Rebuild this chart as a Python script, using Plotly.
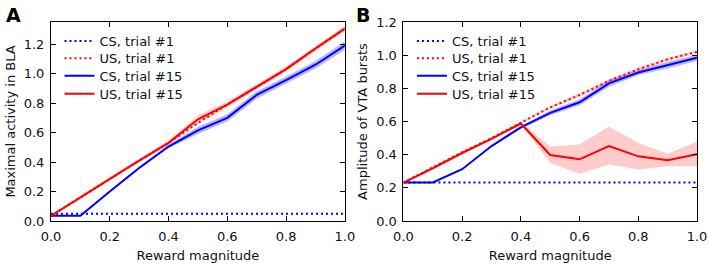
import plotly.graph_objects as go

# ---------------- data ----------------
reward = [0.0, 0.1, 0.2, 0.3, 0.4, 0.5, 0.6, 0.7, 0.8, 0.9, 1.0]
xticks = [0.0, 0.2, 0.4, 0.6, 0.8, 1.0]
xtick_labels = ["0.0", "0.2", "0.4", "0.6", "0.8", "1.0"]
a_yticks = [0.0, 0.2, 0.4, 0.6, 0.8, 1.0, 1.2]
b_yticks = [0.0, 0.2, 0.4, 0.6, 0.8, 1.0, 1.2]
series_names = ["CS, trial #1", "US, trial #1", "CS, trial #15", "US, trial #15"]

# Panel A: maximal activity in BLA
a_cs1 = [0.05, 0.05, 0.05, 0.05, 0.05, 0.05, 0.05, 0.05, 0.05, 0.05, 0.05]
a_us1 = [0.035, 0.16, 0.29, 0.41, 0.53, 0.665, 0.79, 0.91, 1.03, 1.17, 1.305]
a_cs15 = [0.035, 0.035, 0.20, 0.36, 0.505, 0.615, 0.70, 0.855, 0.955, 1.06, 1.19]
a_cs15_sd = [0.0, 0.0, 0.005, 0.008, 0.012, 0.025, 0.025, 0.025, 0.025, 0.025, 0.03]
a_us15 = [0.035, 0.16, 0.29, 0.41, 0.53, 0.69, 0.79, 0.91, 1.03, 1.17, 1.305]
a_us15_sd = [0.005, 0.008, 0.01, 0.01, 0.014, 0.028, 0.02, 0.018, 0.018, 0.018, 0.02]

# Panel B: amplitude of VTA bursts
b_cs1 = [0.232, 0.232, 0.232, 0.232, 0.232, 0.232, 0.232, 0.232, 0.232, 0.232, 0.232]
b_us1 = [0.232, 0.325, 0.415, 0.50, 0.595, 0.685, 0.76, 0.845, 0.915, 0.975, 1.02]
b_us1_sd = [0.0, 0.003, 0.004, 0.005, 0.006, 0.008, 0.01, 0.01, 0.01, 0.01, 0.01]
b_cs15 = [0.232, 0.232, 0.312, 0.452, 0.565, 0.652, 0.716, 0.83, 0.895, 0.94, 0.985]
b_cs15_sd = [0.0, 0.0, 0.003, 0.005, 0.008, 0.015, 0.018, 0.02, 0.015, 0.02, 0.018]
b_us15 = [0.232, 0.318, 0.41, 0.495, 0.588, 0.398, 0.372, 0.452, 0.39, 0.366, 0.402]
b_us15_hi = [0.232, 0.32, 0.412, 0.498, 0.595, 0.45, 0.462, 0.57, 0.47, 0.405, 0.48]
b_us15_lo = [0.232, 0.316, 0.408, 0.492, 0.58, 0.35, 0.285, 0.34, 0.31, 0.33, 0.33]

BLUE = "#0000ff"
RED = "#ff0000"
BLUE_FILL = "rgba(0,0,255,0.28)"
RED_FILL = "rgba(255,0,0,0.2)"
FONT = "DejaVu Sans"
TXT = "#111111"
FS = 13

W, H = 709, 265
ML, MR, MT, MB = 50.5, 11.5, 22, 43.5
IW, IH = W - ML - MR, H - MT - MB


def px_x(p):  # pixel -> paper x
    return (p - ML) / IW


def px_y(p):  # pixel (from top) -> paper y
    return (H - MB - p) / IH


fig = go.Figure()


def band(lo, hi, color, xa, ya):
    fig.add_trace(go.Scatter(x=reward + reward[::-1], y=hi + lo[::-1], fill="toself",
                             fillcolor=color, line=dict(width=0), mode="lines",
                             hoverinfo="skip", showlegend=False, xaxis=xa, yaxis=ya))


def line(y, color, dash, name, xa, ya, leg):
    fig.add_trace(go.Scatter(x=reward, y=y, mode="lines", name=name,
                             line=dict(color=color, width=2, dash=dash),
                             xaxis=xa, yaxis=ya, legend=leg))


DOT = "2px,3px"

# Panel A bands
band([m - s for m, s in zip(a_cs15, a_cs15_sd)], [m + s for m, s in zip(a_cs15, a_cs15_sd)], BLUE_FILL, "x", "y")
band([m - s for m, s in zip(a_us15, a_us15_sd)], [m + s for m, s in zip(a_us15, a_us15_sd)], RED_FILL, "x", "y")
# Panel B bands
band([m - s for m, s in zip(b_us1, b_us1_sd)], [m + s for m, s in zip(b_us1, b_us1_sd)], RED_FILL, "x2", "y2")
band([m - s for m, s in zip(b_cs15, b_cs15_sd)], [m + s for m, s in zip(b_cs15, b_cs15_sd)], BLUE_FILL, "x2", "y2")
band(b_us15_lo, b_us15_hi, RED_FILL, "x2", "y2")

# Panel A lines (one legend per row so that rows can be placed like the original)
line(a_cs1, BLUE, DOT, series_names[0], "x", "y", "legend")
line(a_us1, RED, DOT, series_names[1], "x", "y", "legend2")
line(a_cs15, BLUE, "solid", series_names[2], "x", "y", "legend3")
line(a_us15, RED, "solid", series_names[3], "x", "y", "legend4")
# Panel B lines
line(b_cs1, BLUE, DOT, series_names[0], "x2", "y2", "legend5")
line(b_us1, RED, DOT, series_names[1], "x2", "y2", "legend6")
line(b_cs15, BLUE, "solid", series_names[2], "x2", "y2", "legend7")
line(b_us15, RED, "solid", series_names[3], "x2", "y2", "legend8")

axis_common = dict(showline=True, linecolor="black", linewidth=1, mirror="ticks",
                   ticks="inside", ticklen=5, tickcolor="black", showgrid=False,
                   zeroline=False, automargin=False,
                   tickfont=dict(family=FONT, size=FS, color=TXT))

xaxis_common = dict(axis_common, range=[0, 1], tickvals=xticks, ticktext=xtick_labels,
                    ticklabelstandoff=3,
                    title=dict(text="Reward magnitude", font=dict(family=FONT, size=FS, color=TXT),
                               standoff=8))

row_y = [41, 58.5, 76, 94]
legends = {}
for panel, x0 in ((0, 59), (1, 412)):
    for i, ry in enumerate(row_y):
        k = panel * 4 + i + 1
        key = "legend" if k == 1 else "legend%d" % k
        legends[key] = dict(x=px_x(x0), y=px_y(ry), xanchor="left", yanchor="middle",
                            bgcolor="rgba(0,0,0,0)", borderwidth=0,
                            font=dict(family=FONT, size=FS, color=TXT))

fig.update_layout(
    width=W, height=H,
    margin=dict(l=ML, r=MR, t=MT, b=MB),
    paper_bgcolor="white", plot_bgcolor="white",
    font=dict(family=FONT, size=FS, color=TXT),
    xaxis=dict(xaxis_common, domain=[0, (344.8 - ML) / IW], anchor="y"),
    yaxis=dict(axis_common, domain=[0, 1], anchor="x",
               range=[0, 1.35], tickvals=a_yticks, tickformat=".1f",
               ticklabelstandoff=3,
               title=dict(text="Maximal activity in BLA", font=dict(family=FONT, size=FS, color=TXT),
                          standoff=5)),
    xaxis2=dict(xaxis_common, domain=[(403.5 - ML) / IW, 1], anchor="y2"),
    yaxis2=dict(axis_common, domain=[0, 1], anchor="x2",
                range=[0, 1.2], tickvals=b_yticks, tickformat=".1f",
                ticklabelstandoff=3,
                title=dict(text="Amplitude of VTA bursts", font=dict(family=FONT, size=FS, color=TXT),
                           standoff=5)),
    annotations=[
        dict(text="<b>A</b>", x=px_x(3), y=px_y(2), xref="paper", yref="paper",
             xanchor="left", yanchor="top", showarrow=False,
             font=dict(family=FONT, size=19, color="black")),
        dict(text="<b>B</b>", x=px_x(354), y=px_y(2), xref="paper", yref="paper",
             xanchor="left", yanchor="top", showarrow=False,
             font=dict(family=FONT, size=19, color="black")),
    ],
    **legends,
)

# remove the browser's default 8px page margin so the figure sits at the window's corner
fig.write_html("out.html", config={"displayModeBar": False},
               post_script="document.body.style.margin='0';")
